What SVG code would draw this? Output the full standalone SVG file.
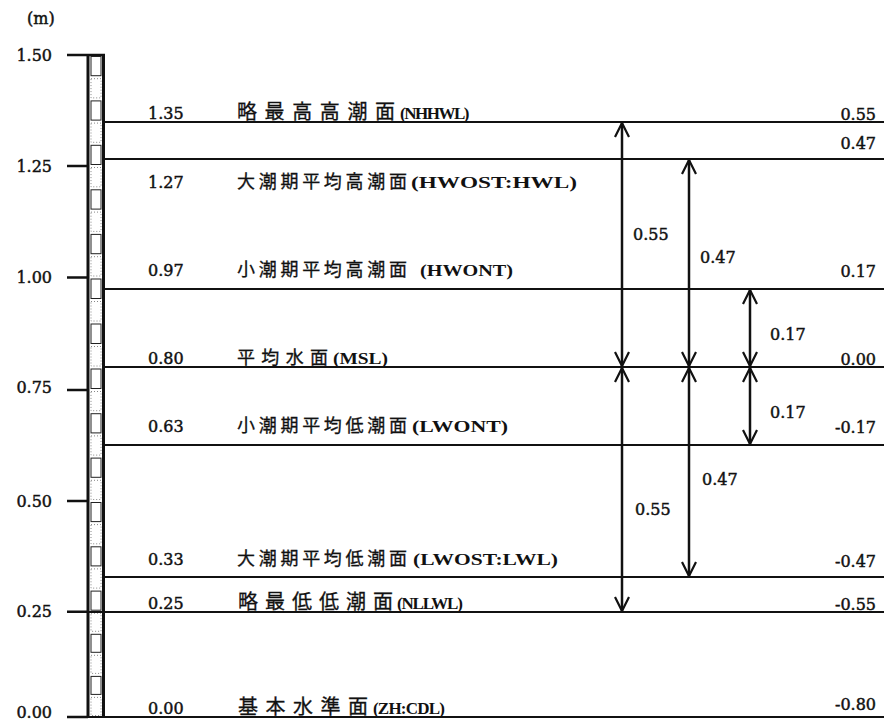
<svg xmlns="http://www.w3.org/2000/svg" width="886" height="723" viewBox="0 0 886 723">
<style>
.num{font-family:"DejaVu Serif","Liberation Serif",serif;font-size:16px;fill:#111;stroke:#111;stroke-width:0.45;}
.lat{font-family:"Liberation Serif","DejaVu Serif",serif;font-size:17px;font-weight:bold;fill:#111;}
.jp{font-family:"Noto Sans CJK JP","Noto Sans CJK SC",sans-serif;font-size:18px;fill:#111;stroke:#111;stroke-width:0.3;}
.jb{font-size:20px;}
.lvl{stroke:#111;stroke-width:2;fill:none;}
.tick{stroke:#111;stroke-width:2.5;fill:none;}
.arr{stroke:#111;stroke-width:2.5;fill:none;marker-start:url(#ah);marker-end:url(#ah);}
.box{fill:#fff;stroke:#222;stroke-width:1;}
.dbox{fill:#fff;stroke:#888;stroke-width:1;stroke-dasharray:1 2;}
</style>
<defs>
<marker id="ah" viewBox="-16 -9 18 18" refX="0" refY="0" markerWidth="18" markerHeight="18" markerUnits="userSpaceOnUse" orient="auto-start-reverse">
<path d="M-14,-7 L0,0 L-14,7" fill="none" stroke="#111" stroke-width="2.2"/>
</marker>
</defs>
<rect width="886" height="723" fill="#fff"/>

<g id="axis">
<text class="num" x="27" y="24">(m)</text>
<text class="num" x="52" y="61" text-anchor="end">1.50</text>
<text class="num" x="52" y="172" text-anchor="end">1.25</text>
<text class="num" x="52" y="283" text-anchor="end">1.00</text>
<text class="num" x="52" y="393" text-anchor="end">0.75</text>
<text class="num" x="52" y="507" text-anchor="end">0.50</text>
<text class="num" x="52" y="617" text-anchor="end">0.25</text>
<text class="num" x="52" y="718" text-anchor="end">0.00</text>
<path class="tick" d="M67,55H105M67,166H88M67,277.5H88M67,390H88M67,501H88M67,611.7H88M67,717H88"/>
</g>

<g id="staff">
<rect class="box" x="91" y="56.5" width="10" height="19.2"/>
<rect class="dbox" x="91" y="78.7" width="10" height="19.2"/>
<rect class="box" x="91" y="100.9" width="10" height="19.2"/>
<rect class="dbox" x="91" y="123.1" width="10" height="19.2"/>
<rect class="box" x="91" y="145.3" width="10" height="19.2"/>
<rect class="dbox" x="91" y="167.5" width="10" height="19.3"/>
<rect class="box" x="91" y="189.8" width="10" height="19.3"/>
<rect class="dbox" x="91" y="212.1" width="10" height="19.3"/>
<rect class="box" x="91" y="234.4" width="10" height="19.3"/>
<rect class="dbox" x="91" y="256.7" width="10" height="19.3"/>
<rect class="box" x="91" y="279" width="10" height="19.5"/>
<rect class="dbox" x="91" y="301.5" width="10" height="19.5"/>
<rect class="box" x="91" y="324" width="10" height="19.5"/>
<rect class="dbox" x="91" y="346.5" width="10" height="19.5"/>
<rect class="box" x="91" y="369" width="10" height="19.5"/>
<rect class="dbox" x="91" y="391.5" width="10" height="19.2"/>
<rect class="box" x="91" y="413.7" width="10" height="19.2"/>
<rect class="dbox" x="91" y="435.9" width="10" height="19.2"/>
<rect class="box" x="91" y="458.1" width="10" height="19.2"/>
<rect class="dbox" x="91" y="480.3" width="10" height="19.2"/>
<rect class="box" x="91" y="502.5" width="10" height="19.1"/>
<rect class="dbox" x="91" y="524.6" width="10" height="19.2"/>
<rect class="box" x="91" y="546.8" width="10" height="19.1"/>
<rect class="dbox" x="91" y="568.9" width="10" height="19.2"/>
<rect class="box" x="91" y="591.1" width="10" height="19.1"/>
<rect class="dbox" x="91" y="613.2" width="10" height="18.1"/>
<rect class="box" x="91" y="634.3" width="10" height="18"/>
<rect class="dbox" x="91" y="655.3" width="10" height="18.1"/>
<rect class="box" x="91" y="676.4" width="10" height="18"/>
<rect class="dbox" x="91" y="697.4" width="10" height="18.1"/>
<path d="M88,54V718M103.5,54V718" stroke="#111" stroke-width="3" fill="none"/>
</g>

<g id="nhhwl">
<line class="lvl" x1="105" y1="122" x2="884" y2="122"/>
<text class="num" x="148" y="119">1.35</text>
<text class="jp jb" x="237" y="119" textLength="158" lengthAdjust="spacing">略最高高潮面</text>
<text class="lat" x="400" y="119" letter-spacing="-1.5">(NHHWL)</text>
<text class="num" x="876" y="120" text-anchor="end">0.55</text>
</g>

<g id="hwl">
<line class="lvl" x1="105" y1="159" x2="884" y2="159"/>
<text class="num" x="148" y="188">1.27</text>
<text class="jp" x="237" y="188" textLength="170" lengthAdjust="spacing">大潮期平均高潮面</text>
<text class="lat" x="411" y="188" textLength="166" lengthAdjust="spacingAndGlyphs">(HWOST:HWL)</text>
<text class="num" x="876" y="149" text-anchor="end">0.47</text>
</g>

<g id="hwont">
<line class="lvl" x1="105" y1="289" x2="884" y2="289"/>
<text class="num" x="148" y="276">0.97</text>
<text class="jp" x="237" y="276" textLength="170" lengthAdjust="spacing">小潮期平均高潮面</text>
<text class="lat" x="420" y="276" textLength="93" lengthAdjust="spacingAndGlyphs">(HWONT)</text>
<text class="num" x="876" y="277" text-anchor="end">0.17</text>
</g>

<g id="msl">
<line class="lvl" x1="105" y1="367" x2="884" y2="367"/>
<text class="num" x="148" y="364">0.80</text>
<text class="jp" x="237" y="364" textLength="91" lengthAdjust="spacing">平均水面</text>
<text class="lat" x="333" y="364" textLength="55" lengthAdjust="spacingAndGlyphs">(MSL)</text>
<text class="num" x="876" y="365" text-anchor="end">0.00</text>
</g>

<g id="lwont">
<line class="lvl" x1="105" y1="445" x2="884" y2="445"/>
<text class="num" x="148" y="432">0.63</text>
<text class="jp" x="237" y="432" textLength="170" lengthAdjust="spacing">小潮期平均低潮面</text>
<text class="lat" x="412" y="432" textLength="96" lengthAdjust="spacingAndGlyphs">(LWONT)</text>
<text class="num" x="876" y="433" text-anchor="end">-0.17</text>
</g>

<g id="lwl">
<line class="lvl" x1="105" y1="577" x2="884" y2="577"/>
<text class="num" x="148" y="565">0.33</text>
<text class="jp" x="237" y="565" textLength="170" lengthAdjust="spacing">大潮期平均低潮面</text>
<text class="lat" x="413" y="565" textLength="145" lengthAdjust="spacingAndGlyphs">(LWOST:LWL)</text>
<text class="num" x="876" y="567" text-anchor="end">-0.47</text>
</g>

<g id="nllwl">
<line class="lvl" x1="88" y1="612" x2="884" y2="612"/>
<text class="num" x="148" y="609">0.25</text>
<text class="jp jb" x="238" y="609" textLength="155" lengthAdjust="spacing">略最低低潮面</text>
<text class="lat" x="397" y="609" letter-spacing="-1.2">(NLLWL)</text>
<text class="num" x="876" y="610" text-anchor="end">-0.55</text>
</g>

<g id="cdl">
<line class="lvl" x1="88" y1="717" x2="884" y2="717"/>
<text class="num" x="148" y="714">0.00</text>
<text class="jp jb" x="238" y="714" textLength="130" lengthAdjust="spacing">基本水準面</text>
<text class="lat" x="373" y="714" letter-spacing="-0.8">(ZH:CDL)</text>
<text class="num" x="876" y="710" text-anchor="end">-0.80</text>
</g>

<g id="connectors">
<line class="arr" x1="622" y1="123" x2="622" y2="366"/>
<line class="arr" x1="622" y1="368" x2="622" y2="611"/>
<line class="arr" x1="689" y1="160" x2="689" y2="366"/>
<line class="arr" x1="689" y1="368" x2="689" y2="576"/>
<line class="arr" x1="750" y1="290" x2="750" y2="366"/>
<line class="arr" x1="750" y1="368" x2="750" y2="444"/>
<text class="num" x="633" y="240">0.55</text>
<text class="num" x="700" y="263">0.47</text>
<text class="num" x="770" y="340">0.17</text>
<text class="num" x="770" y="418">0.17</text>
<text class="num" x="702" y="485">0.47</text>
<text class="num" x="635" y="515">0.55</text>
</g>
</svg>
